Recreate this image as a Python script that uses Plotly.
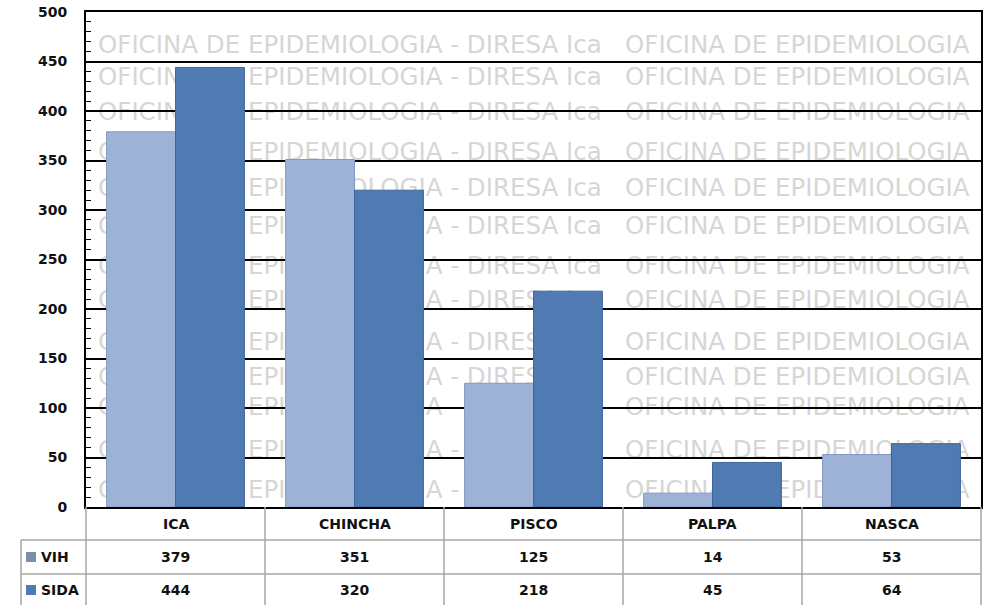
"""VIH / SIDA POR PROVINCIA - DIRESA ICA"""
import plotly.graph_objects as go

categories = ["ICA", "CHINCHA", "PISCO", "PALPA", "NASCA"]
vih = [379, 351, 125, 14, 53]
sida = [444, 320, 218, 45, 64]
series_names = ["VIH", "SIDA"]
series_colors = ["#9EB2D8", "#4F7BB2"]
line_colors = ["#8498C4", "#3F6699"]
key_colors = ["#7F8DAD", "#4F7BB2"]

watermark_left = "OFICINA DE EPIDEMIOLOGIA - DIRESA Ica"
watermark_right = "OFICINA DE EPIDEMIOLOGIA"
watermark_rows = [43, 75, 110, 150, 186, 224, 264, 298, 340, 375, 405, 448, 488]

W, H = 989, 605
L, R, T, B = 86, 8, 12, 98
PW = W - L - R
PH = H - T - B


def px(x):
    """window pixel x -> paper x"""
    return (x - L) / PW


def py(y):
    """window pixel y -> paper y"""
    return (H - B - y) / PH


FONT = "DejaVu Sans"
TABLE_LINE = dict(color="#A6A6A6", width=1.5)

data = [
    go.Bar(
        x=categories,
        y=values,
        name=name,
        marker_color=color,
        marker_line=dict(color=lcolor, width=1),
    )
    for name, values, color, lcolor in zip(
        series_names, [vih, sida], series_colors, line_colors
    )
]

shapes = []
# watermark rows (behind the bars and gridlines)
for y in watermark_rows:
    for x0, x1, text in [(92, 615, watermark_left), (619, 980, watermark_right)]:
        shapes.append(
            dict(
                type="rect",
                xref="paper",
                yref="paper",
                x0=px(x0),
                x1=px(x1),
                y0=py(y + 13),
                y1=py(y - 13),
                line_width=0,
                fillcolor="rgba(0,0,0,0)",
                layer="below",
                label=dict(
                    text=text,
                    textposition="middle left",
                    padding=3,
                    font=dict(family=FONT, size=24.5, color="#D6D6D6"),
                ),
            )
        )

# data table grid
for y in [540, 574]:
    shapes.append(
        dict(type="line", xref="paper", yref="paper", x0=px(21), x1=1,
             y0=py(y), y1=py(y), line=TABLE_LINE)
    )
for k in range(6):
    shapes.append(
        dict(type="line", xref="paper", yref="paper", x0=k / 5, x1=k / 5,
             y0=0, y1=py(606), line=TABLE_LINE)
    )
shapes.append(
    dict(type="line", xref="paper", yref="paper", x0=px(21), x1=px(21),
         y0=py(540), y1=py(606), line=TABLE_LINE)
)

annotations = []
row_y = [py(557), py(590)]
for name, values, kcolor, yy in zip(series_names, [vih, sida], key_colors, row_y):
    shapes.append(
        dict(type="rect", xref="paper", yref="paper",
             x0=px(26), x1=px(36), y0=yy - 5 / PH, y1=yy + 5 / PH,
             line_width=0, fillcolor=kcolor)
    )
    annotations.append(
        dict(text=f"<b>{name}</b>", xref="paper", yref="paper", x=px(39), y=yy,
             xanchor="left", yanchor="middle", showarrow=False,
             font=dict(family=FONT, size=14, color="#111111"))
    )
    for cat, val in zip(categories, values):
        annotations.append(
            dict(text=f"<b>{val}</b>", xref="x", yref="paper", x=cat, y=yy,
                 xanchor="center", yanchor="middle", showarrow=False,
                 font=dict(family=FONT, size=14, color="#111111"))
        )
for cat in categories:
    annotations.append(
        dict(text=f"<b>{cat}</b>", xref="x", yref="paper", x=cat, y=py(524),
             xanchor="center", yanchor="middle", showarrow=False,
             font=dict(family=FONT, size=14, color="#111111"))
    )

layout = go.Layout(
    width=W,
    height=H,
    margin=dict(l=L, r=R, t=T, b=B, pad=0),
    paper_bgcolor="white",
    plot_bgcolor="white",
    showlegend=False,
    barmode="group",
    bargap=0.23,
    bargroupgap=0,
    font=dict(family=FONT, color="#111111"),
    xaxis=dict(
        showticklabels=False,
        showgrid=False,
        ticks="",
        showline=True,
        linecolor="black",
        linewidth=2,
        mirror=True,
        range=[-0.5, 4.5],
    ),
    yaxis=dict(
        range=[0, 500],
        dtick=50,
        showgrid=True,
        gridcolor="black",
        gridwidth=1.5,
        zeroline=False,
        showline=True,
        linecolor="black",
        linewidth=2,
        mirror=True,
        ticks="inside",
        ticklen=5,
        tickcolor="black",
        ticklabelstandoff=14,
        automargin=False,
        tickfont=dict(family=FONT, size=14, color="#111111", weight="bold"),
        minor=dict(dtick=10, ticks="inside", ticklen=5, tickcolor="black",
                   showgrid=False),
    ),
    shapes=shapes,
    annotations=annotations,
)

fig = go.Figure(data, layout)
# the page body keeps a default 8px margin; drop it so the figure fills the window
fig.write_html(
    "out.html",
    config={"displayModeBar": False},
    post_script="document.body.style.margin = '0px';",
)
